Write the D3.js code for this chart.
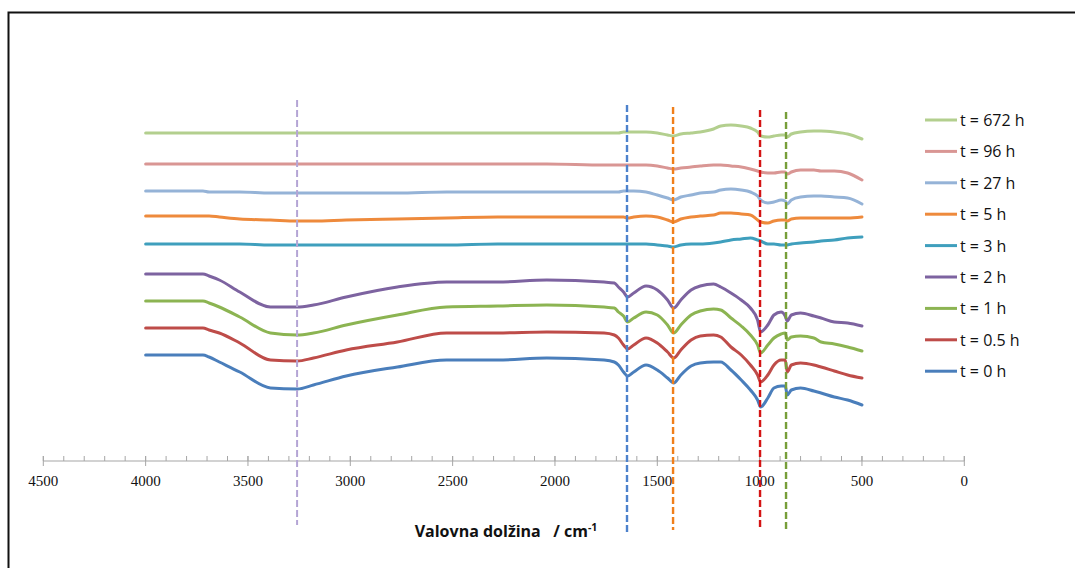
<!DOCTYPE html>
<html>
  <head>
    <meta charset="UTF-8" />
    <title>FTIR spektri</title>
    <script src="https://cdnjs.cloudflare.com/ajax/libs/d3/7.8.5/d3.min.js"></script>
    <style>
      body {
        margin: 0;
        padding: 0;
        background: #fff;
      }
      .tick-label {
        font-family: "Liberation Serif", serif;
        font-size: 15px;
        fill: #111;
      }
      .legend-label {
        font-family: "Open Sans", sans-serif;
        font-size: 16px;
        fill: #111;
      }
      .axis-title {
        font-family: "Open Sans", sans-serif;
        font-size: 16px;
        font-weight: bold;
        fill: #111;
        white-space: pre;
      }
    </style>
  </head>

  <body>
    <svg id="chart" width="1075" height="568"></svg>

    <script>
      // wavenumbers (cm-1) at which the spectra were read
      const wavenumbers = [4000, 3720, 3690, 3640, 3540, 3390, 3260, 3180, 3020, 2770,
                           2530, 2280, 2040, 1760, 1710, 1690, 1665, 1645, 1615, 1555,
                           1500, 1450, 1420, 1385, 1335, 1290, 1225, 1190, 1140, 1090,
                           1045, 1010, 995, 960, 930, 895, 875, 865, 845, 800,
                           735, 700, 635, 570, 500];

      // offset signal for every sample (arbitrary units, stacked)
      const t0h   = [106,106,104,99,89,73,72,76,85,94, 101,101,103,101,99,96,89,85,89,96,
                     91,83,78,86,95,98,99,99,91,81, 71,61,54,63,73,75,75,66,71,73, 70,68,64,61,56];
      const t05h  = [133,133,131,128,118,101,100,103,111,119, 128,128,129,128,126,123,116,112,116,123,
                     118,109,103,111,121,125,126,124,114,106, 96,86,79,86,96,101,101,89,96,98, 96,94,90,86,83];
      const t1h   = [160,160,158,154,144,128,126,128,136,146, 154,155,156,154,153,149,145,139,143,149,
                     146,136,128,136,146,150,152,151,143,135, 126,116,108,116,123,127,128,121,124,125, 123,119,117,114,110];
      const t2h   = [187,187,185,181,169,154,154,156,164,174, 179,179,181,179,178,174,169,164,168,175,
                     171,161,153,161,171,175,177,174,168,161, 153,141,129,136,146,149,145,140,146,148, 145,143,139,138,135];
      const t3h   = [217,217,217,217,217,216,216,216,216,216, 216,217,217,217,217,217,217,217,217,217,
                     216,215,214,216,217,217,218,219,221,222, 223,221,220,217,217,216,216,216,217,218, 219,220,221,223,224];
      const t5h   = [245,245,245,244,242,241,240,240,241,242, 243,244,244,244,244,244,244,243,244,245,
                     244,241,239,242,244,245,246,248,248,247, 246,241,239,238,240,241,241,240,242,243, 243,243,243,243,244];
      const t27h  = [270,270,269,269,269,268,268,268,268,268, 269,269,269,269,269,269,270,270,270,269,
                     266,263,261,264,266,268,269,271,272,271, 269,265,261,258,259,261,260,257,261,264, 265,265,264,263,257];
      const t96h  = [297,297,297,297,297,297,297,297,297,297, 297,297,297,296,296,296,296,296,296,296,
                     295,293,292,293,294,295,296,296,295,294, 292,290,289,288,288,289,289,287,289,291, 291,290,290,288,281];
      const t672h = [328,328,328,328,328,328,328,328,328,328, 328,328,328,328,328,328,329,329,329,329,
                     328,326,325,327,328,329,332,335,336,335, 333,329,325,324,325,326,326,324,327,329, 330,330,329,327,322];

      // legend order (top to bottom)
      const seriesNames = ["t = 672 h", "t = 96 h", "t = 27 h", "t = 5 h", "t = 3 h",
                           "t = 2 h", "t = 1 h", "t = 0.5 h", "t = 0 h"];
      const seriesValues = [t672h, t96h, t27h, t5h, t3h, t2h, t1h, t05h, t0h];
      const seriesColors = ["#b3cf8e", "#d99694", "#95b3d7", "#ee8a3c", "#3f9fbd",
                            "#7d63a0", "#8cb452", "#be4c49", "#4a7ebb"];

      // marked bands
      const bandPositions = [3260, 1648, 1423, 998, 871];
      const bandColors = ["#b4a5d5", "#4d82cc", "#f07f1b", "#d41414", "#779e3a"];
      const bandTop = [361, 356, 354, 351, 349];
      const bandBottom = [-64, -72, -69, -69, -69];

      const xTicks = d3.range(4500, -1, -500);

      const svg = d3.select("#chart");

      // frame
      svg.append("rect")
        .attr("x", 8.5).attr("y", 12.5)
        .attr("width", 1100).attr("height", 600)
        .attr("fill", "none")
        .attr("stroke", "#111")
        .attr("stroke-width", 2);

      const x = d3.scaleLinear().domain([4500, 0]).range([43.3, 964.3]);
      const y = d3.scaleLinear().domain([0, 361]).range([461, 100]);

      // x axis
      const axisG = svg.append("g").attr("transform", "translate(0,461)");
      axisG.append("line")
        .attr("x1", x(4500)).attr("x2", x(0))
        .attr("stroke", "#a6a6a6").attr("stroke-width", 1.2);
      axisG.selectAll(".minor")
        .data(d3.range(4500, -1, -100))
        .join("line")
        .attr("x1", d => x(d)).attr("x2", d => x(d))
        .attr("y1", -5).attr("y2", 0)
        .attr("stroke", "#a6a6a6");
      axisG.selectAll(".major")
        .data(xTicks)
        .join("line")
        .attr("x1", d => x(d)).attr("x2", d => x(d))
        .attr("y1", -5).attr("y2", 5)
        .attr("stroke", "#a6a6a6");
      axisG.selectAll(".tick-label")
        .data(xTicks)
        .join("text")
        .attr("class", "tick-label")
        .attr("x", d => x(d))
        .attr("y", 25)
        .attr("text-anchor", "middle")
        .text(d => d);

      const title = svg.append("text")
        .attr("class", "axis-title")
        .attr("x", 506)
        .attr("y", 537)
        .attr("text-anchor", "middle");
      title.append("tspan").text("Valovna dolžina   / cm");
      title.append("tspan").attr("dy", -6).attr("font-size", 10.5).text("-1");

      // spectra
      const line = d3.line()
        .x((d, i) => x(wavenumbers[i]))
        .y(d => y(d))
        .curve(d3.curveMonotoneX);

      svg.append("g").selectAll("path")
        .data(seriesValues)
        .join("path")
        .attr("d", d => line(d))
        .attr("fill", "none")
        .attr("stroke", (d, i) => seriesColors[i])
        .attr("stroke-width", 3)
        .attr("stroke-linejoin", "round")
        .attr("stroke-linecap", "round");

      // dashed band markers
      svg.append("g").selectAll("line")
        .data(bandPositions)
        .join("line")
        .attr("x1", d => x(d)).attr("x2", d => x(d))
        .attr("y1", (d, i) => y(bandTop[i]))
        .attr("y2", (d, i) => y(bandBottom[i]))
        .attr("stroke", (d, i) => bandColors[i])
        .attr("stroke-width", (d, i) => i === 0 ? 2 : 2.4)
        .attr("stroke-dasharray", "7,3");

      // legend
      const legend = svg.append("g").attr("transform", "translate(925,120)");
      const items = legend.selectAll("g")
        .data(seriesNames)
        .join("g")
        .attr("transform", (d, i) => `translate(0,${i * 31.4})`);
      items.append("line")
        .attr("x1", 0).attr("x2", 32)
        .attr("stroke", (d, i) => seriesColors[i])
        .attr("stroke-width", 3);
      items.append("text")
        .attr("class", "legend-label")
        .attr("x", 35)
        .attr("y", 6)
        .text(d => d);
    </script>
  </body>
</html>
